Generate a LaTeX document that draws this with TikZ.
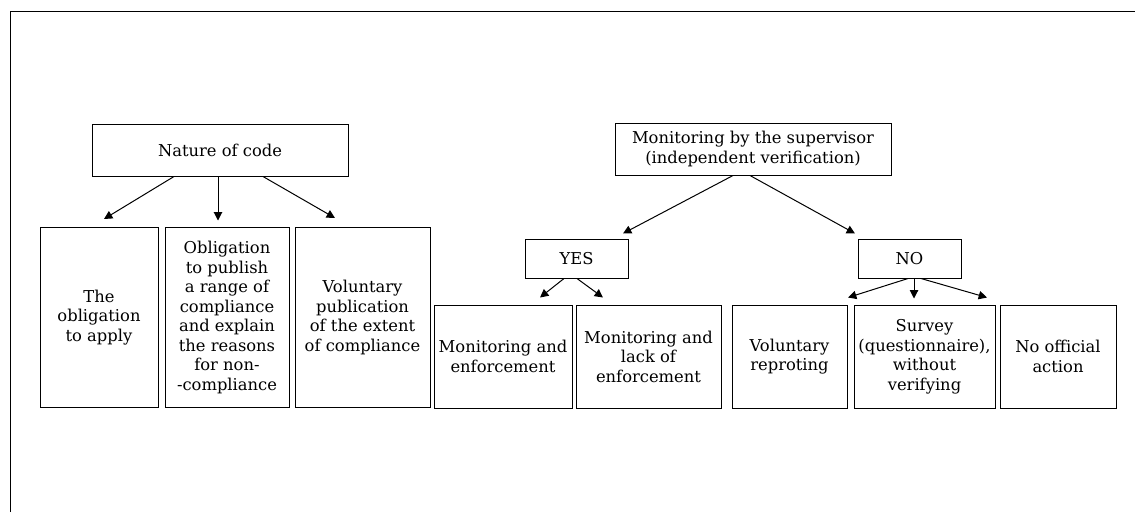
\documentclass[tikz,border=0pt]{standalone}
\usepackage{fontspec}
\setmainfont{DejaVu Serif}
\usetikzlibrary{arrows.meta,positioning,calc}

\begin{document}
\begin{tikzpicture}[
  x=0.6pt, y=-0.6pt,
  font=\fontsize{9.8}{11.7}\selectfont,
  line width=0.6pt,
  box/.style={
    draw, align=center, inner sep=1pt
  },
  head/.style={box, minimum height=31.2pt},
  answer/.style={box, minimum width=61.8pt, minimum height=23.4pt},
  kind/.style={box, minimum height=108pt},
  way/.style={box, minimum height=61.8pt},
  arr/.style={-{Triangle[length=5pt,width=5pt]}}
]
  \useasboundingbox (0,0) rectangle (1135,512);

  % frame
  \draw (10,512) -- (10,11) -- (1135,11);

  % Nature of code and its kinds
  \node[head, minimum width=153.6pt] (nature) at (220,150) {Nature of code};

  \node[kind, minimum width=70.8pt] (apply) at (99,317.5) {%
    The\\ obligation\\ to apply};
  \node[kind, minimum width=74.4pt, right=3.6pt of apply] (publish) {%
    Obligation\\ to publish\\ a range of\\ compliance\\ and explain\\
    the reasons\\ for non-\\ -compliance};
  \node[kind, minimum width=81pt, right=3pt of publish] (extent) {%
    Voluntary\\ publication\\ of the extent\\ of compliance};

  \draw[arr] ($(nature.south)+(-46,0)$) -- ($(apply.north)+(5,-8)$);
  \draw[arr] ($(nature.south)+(-2,0)$) -- ($(nature.south)+(-2,44)$);
  \draw[arr] ($(nature.south)+(43,0)$) -- ($(extent.north)+(-27.5,-9)$);

  % Monitoring by the supervisor
  \node[head, minimum width=165.6pt] (monitor) at (753,149) {%
    Monitoring by the supervisor\\ (independent verification)};

  \node[answer] (yes) at (576.5,258.5) {YES};
  \node[answer] (no) at (909.5,258.5) {NO};

  \draw[arr] ($(monitor.south)+(-20,0)$) -- ($(yes.north)+(46.5,-5)$);
  \draw[arr] ($(monitor.south)+(-3,0)$) -- ($(no.north)+(-54.5,-5)$);

  % ways under YES
  \node[way, minimum width=82.8pt] (enforce) at (503,356.5) {%
    Monitoring and\\ enforcement};
  \node[way, minimum width=87pt, right=1.8pt of enforce] (lack) {%
    Monitoring and\\ lack of\\ enforcement};

  \draw[arr] ($(yes.south)+(-12.5,0)$) -- ($(enforce.north)+(37,-7)$);
  \draw[arr] ($(yes.south)+(0.5,0)$) -- ($(lack.north)+(-45.5,-7)$);

  % ways under NO
  \node[way, minimum width=69pt] (report) at (789.5,356.5) {%
    Voluntary\\ reproting};
  \node[way, minimum width=84.6pt, right=3.6pt of report] (survey) {%
    Survey\\ (questionnaire),\\ without\\ verifying};
  \node[way, minimum width=69.6pt, right=2.4pt of survey] (noaction) {%
    No official\\ action};

  \draw[arr] ($(no.south)+(-1.5,0)$) -- ($(report.north)+(58.5,-7)$);
  \draw[arr] ($(no.south)+(4.5,0)$) -- ($(no.south)+(4.5,20)$);
  \draw[arr] ($(no.south)+(11.5,0)$) -- ($(noaction.north)+(-71,-7)$);

\end{tikzpicture}
\end{document}
